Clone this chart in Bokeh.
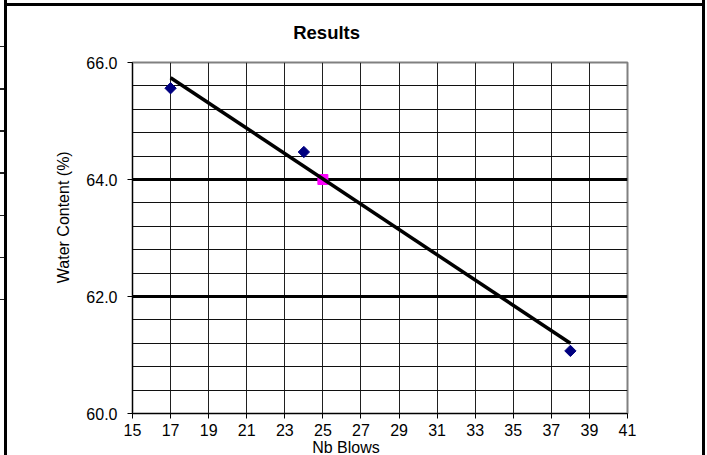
import numpy as np
from bokeh.plotting import figure
from bokeh.models import Title, FixedTicker, NumeralTickFormatter, Range1d
from bokeh.embed import file_html
from bokeh.resources import INLINE

# ---- data ----
blows = [17, 24, 38]
water_content = [65.56, 64.47, 61.07]
target_blows = [25]
target_water = [64.0]
trend_blows = [17, 38]
trend_water = [65.74, 61.20]
x_tick_values = list(range(15, 42, 2))
y_tick_values = [60, 62, 64, 66]
title_text = "Results"
x_label_text = "Nb Blows"
y_label_text = "Water Content (%)"

FONT = "Liberation Sans"

# outer chart-area frame drawn as CSS background behind a transparent border area
outer_styles = {
    "background-color": "white",
    "background-image": ("linear-gradient(#000,#000), linear-gradient(#000,#000), "
                         "linear-gradient(#000,#000), "
                         "repeating-linear-gradient(to bottom, #222 0px, #222 1.4px, "
                         "transparent 1.4px, transparent 42.15px)"),
    "background-size": "3px 100%, 701px 3px, 3px 100%, 4px 256px",
    "background-position": "4px 0px, 4px 2.5px, 702px 0px, 0px 46px",
    "background-repeat": "no-repeat",
}

p = figure(width=707, height=455, output_backend="svg", toolbar_location=None,
           x_range=Range1d(15, 41), y_range=Range1d(60, 66),
           min_border_left=132, min_border_right=80, min_border_top=62, min_border_bottom=42,
           styles=outer_styles)
p.background_fill_color = "white"
p.border_fill_color = None
p.outline_line_color = "#808080"
p.outline_line_width = 2

# axes
for ax in (p.xaxis[0], p.yaxis[0]):
    ax.axis_line_color = "black"
    ax.axis_line_width = 1
    ax.major_tick_line_color = "black"
    ax.major_tick_in = 0
    ax.major_tick_out = 5
    ax.minor_tick_line_color = None
    ax.major_label_text_font = FONT
    ax.major_label_text_font_size = "16px"
    ax.major_label_text_color = "black"
p.xaxis.ticker = FixedTicker(ticks=x_tick_values)
p.yaxis.ticker = FixedTicker(ticks=y_tick_values)
p.yaxis.formatter = NumeralTickFormatter(format="0.0")
p.yaxis.major_label_standoff = 10
p.xaxis.major_label_standoff = 5

# grids
p.xgrid.ticker = FixedTicker(ticks=x_tick_values[1:-1])
p.xgrid.grid_line_color = "#202020"
p.xgrid.grid_line_width = 1
minor_y = [v for v in np.round(np.arange(60.4, 66.0, 0.4), 1) if v not in (62.0, 64.0)]
p.ygrid.ticker = FixedTicker(ticks=[62, 64], minor_ticks=minor_y)
p.ygrid.grid_line_color = "black"
p.ygrid.grid_line_width = 3
p.ygrid.minor_grid_line_color = "#101010"
p.ygrid.minor_grid_line_width = 1

# data
p.scatter(blows, water_content, marker="square", angle=np.pi / 4, size=8,
          fill_color="#000080", line_color="#000080")
p.scatter(target_blows, target_water, marker="square", size=10,
          fill_color="#FF00FF", line_color="#FF00FF")
p.line(trend_blows, trend_water, line_color="black", line_width=3.5)

# texts as title panels
p.add_layout(Title(text=title_text, align="left", offset=160.7, standoff=39,
                   text_font=FONT, text_font_size="18.5px", text_font_style="bold",
                   text_color="black"), "above")
p.add_layout(Title(text=y_label_text, align="left", offset=130.3, standoff=24,
                   text_font=FONT, text_font_size="16px", text_font_style="normal",
                   text_color="black"), "left")
p.add_layout(Title(text=x_label_text, align="left", offset=179.7, standoff=-3.5,
                   text_font=FONT, text_font_size="16px", text_font_style="normal",
                   text_color="black"), "below")

open("out.html", "w").write(file_html(p, INLINE))
